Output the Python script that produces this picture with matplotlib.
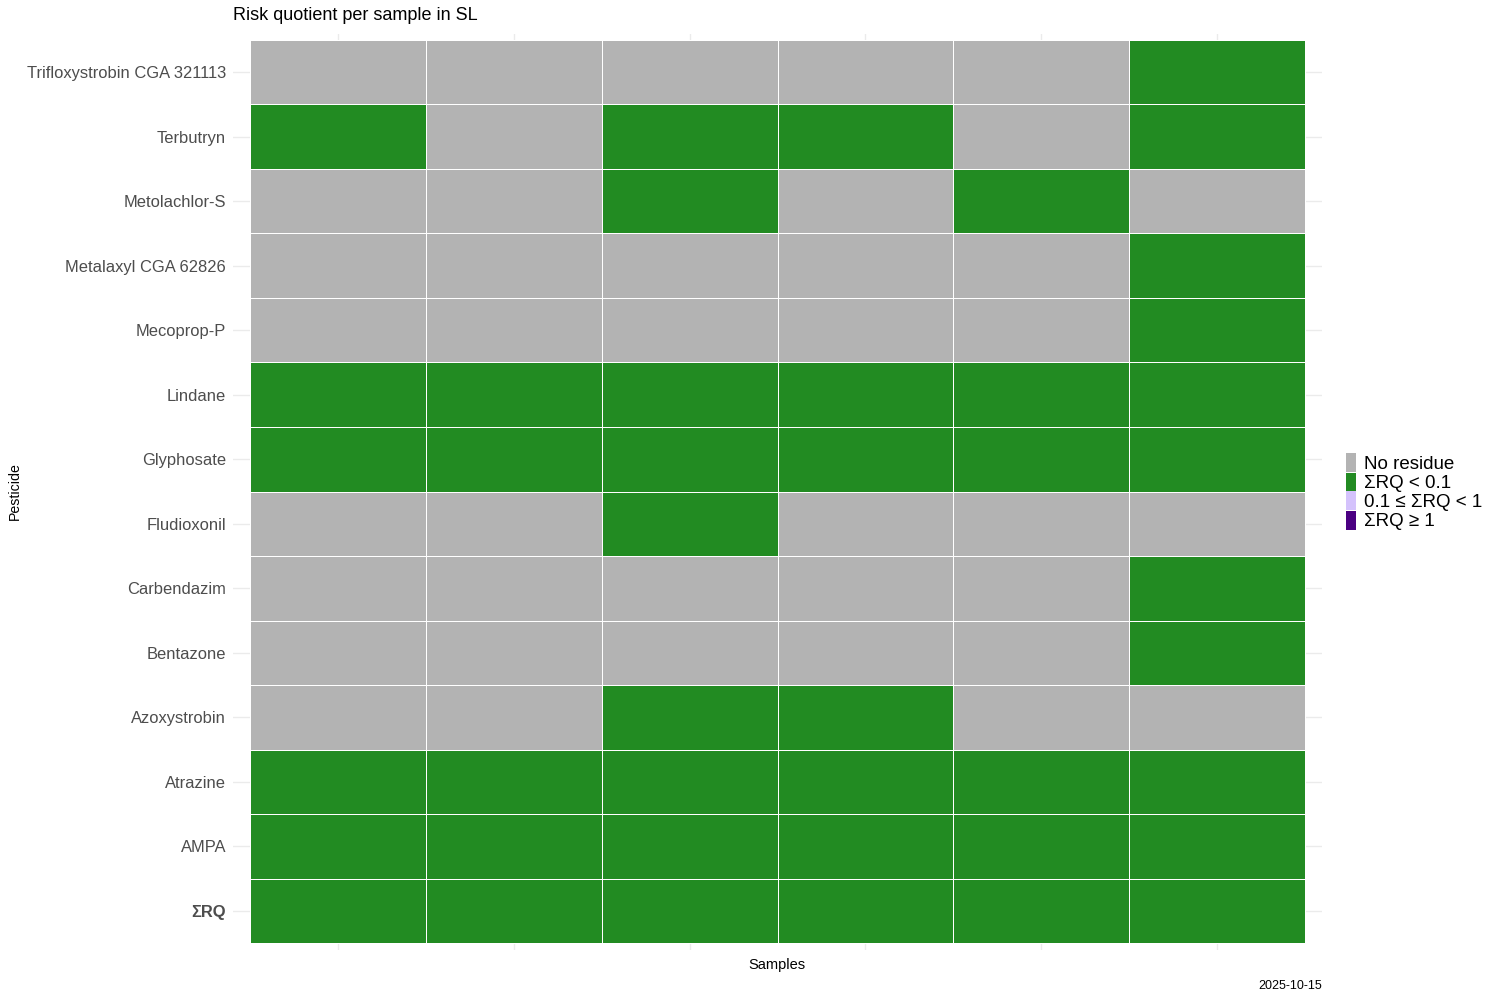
import matplotlib
matplotlib.use("Agg")
import matplotlib.pyplot as plt
import numpy as np
from matplotlib.colors import ListedColormap
from matplotlib.patches import Rectangle

plt.rcParams['font.family'] = ['Liberation Sans', 'DejaVu Sans']

# ---- data ----
title = "Risk quotient per sample in SL"
samples = ["S1", "S2", "S3", "S4", "S5", "S6"]
pesticides = ["Trifloxystrobin CGA 321113", "Terbutryn", "Metolachlor-S",
              "Metalaxyl CGA 62826", "Mecoprop-P", "Lindane", "Glyphosate",
              "Fludioxonil", "Carbendazim", "Bentazone", "Azoxystrobin",
              "Atrazine", "AMPA", "ΣRQ"]
categories = ["No residue", "ΣRQ < 0.1", "0.1 ≤ ΣRQ < 1", "ΣRQ ≥ 1"]
cat_colors = ["#B3B3B3", "#228B22", "#D4C2FC", "#4B0082"]
# category index per pesticide (rows, top to bottom) and sample (columns)
risk_class = [
    [0, 0, 0, 0, 0, 1],
    [1, 0, 1, 1, 0, 1],
    [0, 0, 1, 0, 1, 0],
    [0, 0, 0, 0, 0, 1],
    [0, 0, 0, 0, 0, 1],
    [1, 1, 1, 1, 1, 1],
    [1, 1, 1, 1, 1, 1],
    [0, 0, 1, 0, 0, 0],
    [0, 0, 0, 0, 0, 1],
    [0, 0, 0, 0, 0, 1],
    [0, 0, 1, 1, 0, 0],
    [1, 1, 1, 1, 1, 1],
    [1, 1, 1, 1, 1, 1],
    [1, 1, 1, 1, 1, 1],
]
caption = "2025-10-15"

# ---- plot ----
W, H = 1500, 1000
fig = plt.figure(figsize=(15, 10), dpi=100)
px_l, px_r, px_t, px_b = 232.6, 1322.4, 33.5, 949.5
ax = fig.add_axes([px_l / W, 1 - px_b / H, (px_r - px_l) / W, (px_b - px_t) / H])

nrow, ncol = len(pesticides), len(samples)
Z = np.array(risk_class)[::-1]  # bottom row first
xe = np.arange(ncol + 1) + 0.5
ye = np.arange(nrow + 1) + 0.5
cmap = ListedColormap(cat_colors)
ax.pcolormesh(xe, ye, Z, cmap=cmap, vmin=-0.5, vmax=len(cat_colors) - 0.5,
              edgecolors="white", linewidth=0.7, zorder=2)

ax.set_xlim(0.4, ncol + 0.6)
ax.set_ylim(0.4, nrow + 0.6)
ax.set_xticks(np.arange(1, ncol + 1))
ax.set_xticklabels([])
ax.set_yticks(np.arange(1, nrow + 1))
ax.set_yticklabels(pesticides[::-1], fontsize=11.9, color="#4D4D4D")
for lab in ax.get_yticklabels():
    if lab.get_text() == "ΣRQ":
        lab.set_fontweight("bold")
ax.tick_params(length=0, pad=4.7)
ax.grid(True, color="#EBEBEB", linewidth=1.0, zorder=0)
ax.set_axisbelow(True)
for s in ax.spines.values():
    s.set_visible(False)

# titles
fig.text(233 / W, 1 - 16 / H, title, fontsize=13, ha="left", va="center")
fig.text(15 / W, 1 - 491 / H, "Pesticide", fontsize=10.2, rotation=90,
         ha="center", va="center")
fig.text(777 / W, 1 - 965 / H, "Samples", fontsize=10.5, ha="center", va="center")
fig.text(1322 / W, 1 - 986 / H, caption, fontsize=9, ha="right", va="center")

# legend
key_top = 453.5
key_h = 19
for i, (lab, col) in enumerate(zip(categories, cat_colors)):
    y0 = key_top + i * key_h
    fig.patches.append(Rectangle((1346 / W, 1 - (y0 + key_h) / H), 10 / W, key_h / H,
                                 transform=fig.transFigure, facecolor=col,
                                 edgecolor="none"))
    fig.text(1364 / W, 1 - (y0 + key_h / 2 + 1.5) / H, lab, fontsize=13.5,
             ha="left", va="center")

fig.savefig("out.png", dpi=100)
